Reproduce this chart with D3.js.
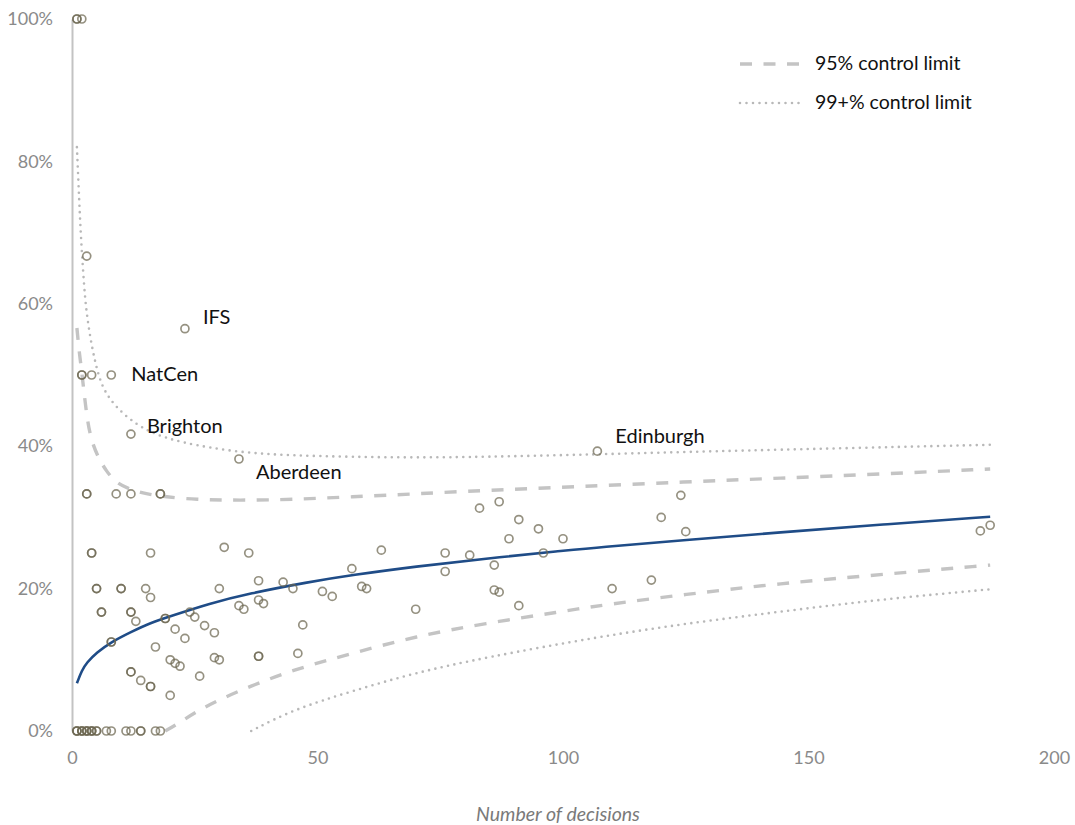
<!DOCTYPE html>
<html>
<head>
<meta charset="utf-8">
<script src="https://cdn.jsdelivr.net/npm/d3@7"></script>
<style>
  body { margin: 0; background: #fff; }
  svg text { font-family: Lato, "Open Sans", sans-serif; }
</style>
</head>
<body>
<div id="vis"></div>
<script>
// observed decisions: [number of decisions, % share]
var points = [
  [1,100],[1,100],[2,100],[3,66.7],
  [2,50],[2,50],[4,50],[8,50],[23,56.5],[12,41.7],[34,38.2],[107,39.3],
  [3,33.3],[3,33.3],[9,33.3],[12,33.3],[18,33.3],[18,33.3],
  [4,25],[4,25],[16,25],[31,25.8],[36,25],
  [5,20],[5,20],[10,20],[10,20],[15,20],[16,18.75],[30,20],[38,21.1],[43,20.9],[45,20],
  [6,16.7],[6,16.7],[12,16.7],[12,16.7],[13,15.4],[19,15.8],[19,15.8],[24,16.7],[25,16],
  [27,14.8],[29,13.8],[21,14.3],[23,13.0],
  [34,17.6],[35,17.1],[38,18.4],[39,17.9],[47,14.9],
  [8,12.5],[8,12.5],[17,11.8],[20,10],[21,9.5],[22,9.1],[29,10.3],[30,10],[38,10.5],[38,10.5],
  [46,10.9],[26,7.7],[12,8.3],[12,8.3],[14,7.1],[16,6.25],[16,6.25],[20,5],
  [51,19.6],[53,18.9],[57,22.8],[59,20.3],[60,20],[63,25.4],[70,17.1],[76,25],[76,22.4],
  [81,24.7],[86,23.3],[86,19.8],[87,19.5],[89,27],[91,29.7],[91,17.6],[95,28.4],[96,25],
  [83,31.3],[87,32.2],[100,27],[110,20],[118,21.2],[120,30],[124,33.1],[125,28],
  [185,28.1],[187,28.9],
  [1,0],[1,0],[1,0],[2,0],[2,0],[2,0],[3,0],[3,0],[3,0],[4,0],[4,0],[4,0],[5,0],[5,0],
  [7,0],[8,0],[11,0],[12,0],[14,0],[14,0],[17,0],[18,0]
];

var trend = [[1,6.7],[2,8.5],[3,9.6],[5,11.0],[8,12.5],[12,13.9],[16,15.2],[20,16.1],[28,17.9],
  [36,19.3],[48,20.9],[57,21.9],[70,23.1],[84,24.2],[100,25.3],[107,25.8],[125,26.8],
  [144,27.9],[165,29.0],[187,30.1]];

var upper95 = [[1,56.6],[1.5,53],[2,50.5],[3,44],[4,40.6],[5.5,38.2],[7,36.5],[9,34.8],[12,33.9],
  [15,33.3],[19,32.9],[25,32.5],[34,32.4],[45,32.5],[57,32.9],[70,33.3],[84,33.8],[103,34.3],
  [125,35.0],[144,35.5],[165,36.1],[187,36.8]];

var lower95 = [[19,0],[22,1.2],[25,2.6],[30,4.4],[36,6.2],[45,8.6],[57,10.9],[70,13.3],[84,15.1],
  [100,16.8],[107,17.6],[125,19.2],[144,20.7],[165,22.0],[187,23.3]];

var upper99 = [[1,82],[1.5,74],[1.8,69.5],[2.5,62],[3,58.5],[4,54],[5.5,49.5],[7,47.3],[9,45.5],
  [12,43.6],[16,41.9],[22,40.5],[34,39.1],[45,38.7],[57,38.5],[70,38.4],[84,38.5],[104,38.8],
  [125,39.2],[150,39.6],[187,40.2]];

var lower99 = [[36.5,0],[45,3.0],[57,5.6],[70,8.2],[84,10.3],[107,13.2],[125,15.1],[147,17.0],
  [165,18.5],[187,19.9]];

var labels = [["IFS",23,56.5],["NatCen",8,50],["Brighton",12,41.7],["Aberdeen",34,38.2],["Edinburgh",107,39.3]];
var labelOffsets = [[18,-10],[20,1],[16,-6],[17,15],[18,-13]];

var xTicks = [0,50,100,150,200];
var yTicks = [0,20,40,60,80,100];

var W = 1075, H = 825;
var svg = d3.select("#vis").append("svg").attr("width", W).attr("height", H);

var x = d3.scaleLinear().domain([0,200]).range([72,1054]);
var y = d3.scaleLinear().domain([0,100]).range([731,19]);

// axes
var yAxis = svg.append("g").attr("transform","translate(72,0)")
  .call(d3.axisLeft(y).tickValues(yTicks).tickSize(0).tickPadding(19).tickFormat(function(d){ return d + "%"; }));
yAxis.select(".domain").attr("stroke","#c3c3c3").attr("stroke-width",2);
yAxis.selectAll("text").attr("font-size",18).attr("fill","#8a8a8a").style("font-family","Lato, sans-serif");

var xAxis = svg.append("g").attr("transform","translate(0,731)")
  .call(d3.axisBottom(x).tickValues(xTicks).tickSize(0).tickPadding(20));
xAxis.select(".domain").remove();
xAxis.selectAll("text").attr("font-size",18).attr("fill","#8a8a8a").style("font-family","Lato, sans-serif");

svg.append("text").attr("x",558).attr("y",821).attr("text-anchor","middle")
  .attr("font-size",19.5).attr("font-style","italic").attr("fill","#7a7a7a")
  .text("Number of decisions");

var line = d3.line().x(function(d){ return x(d[0]); }).y(function(d){ return y(d[1]); })
  .curve(d3.curveBasis);

function dashed(sel){ sel.attr("fill","none").attr("stroke","#c4c4c4").attr("stroke-width",3.4).attr("stroke-dasharray","12,11.5"); }
function dotted(sel){ sel.attr("fill","none").attr("stroke","#b8b8b8").attr("stroke-width",2.6).attr("stroke-linecap","round").attr("stroke-dasharray","0,6.5"); }

svg.append("path").datum(upper99).attr("d",line).call(dotted);
svg.append("path").datum(lower99).attr("d",line).call(dotted);
svg.append("path").datum(upper95).attr("d",line).call(dashed);
svg.append("path").datum(lower95).attr("d",line).call(dashed);

svg.append("path").datum(trend).attr("d",line)
  .attr("fill","none").attr("stroke","#1f4c87").attr("stroke-width",2.6);

svg.append("g").selectAll("circle").data(points).join("circle")
  .attr("cx",function(d){ return x(d[0]); })
  .attr("cy",function(d){ return y(d[1]); })
  .attr("r",4)
  .attr("fill","none")
  .attr("stroke","#6c6650")
  .attr("stroke-opacity",0.72)
  .attr("stroke-width",1.7);

svg.append("g").selectAll("text").data(labels).join("text")
  .attr("x",function(d,i){ return x(d[1]) + labelOffsets[i][0]; })
  .attr("y",function(d,i){ return y(d[2]) + labelOffsets[i][1]; })
  .attr("dominant-baseline","middle")
  .attr("font-size",20).attr("fill","#111")
  .text(function(d){ return d[0]; });

// legend
var legend = [["95% control limit", dashed],["99+% control limit", dotted]];
legend.forEach(function(l,i){
  var ly = 64 + i*39;
  svg.append("line").attr("x1",740).attr("x2",800).attr("y1",ly).attr("y2",ly).call(l[1]);
  svg.append("text").attr("x",815).attr("y",ly + 1).attr("dominant-baseline","middle")
    .attr("font-size",19.5).attr("fill","#111").text(l[0]);
});
</script>
</body>
</html>
